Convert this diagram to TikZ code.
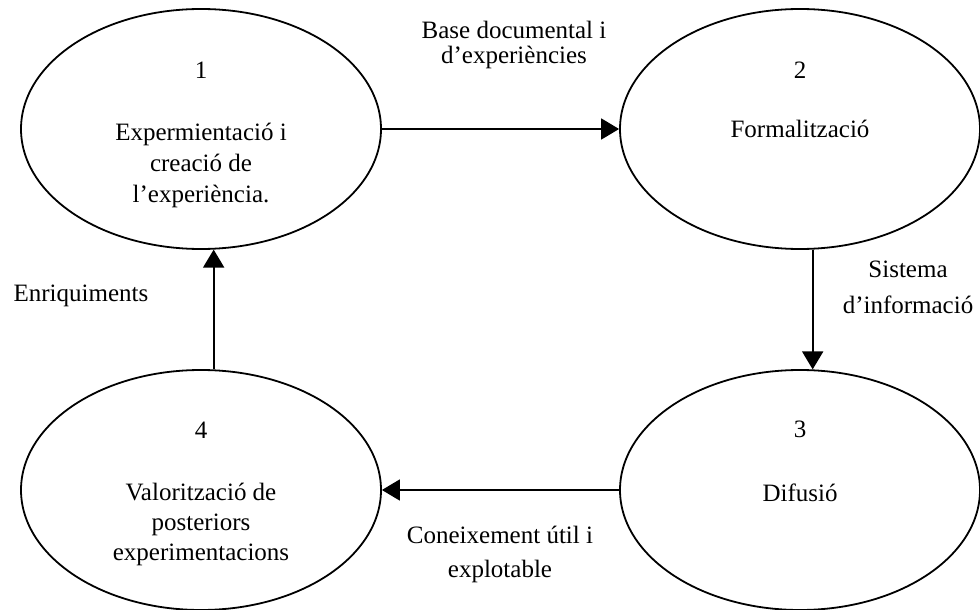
\documentclass[tikz,border=0pt]{standalone}
\usepackage{fontspec}
\setmainfont{Liberation Serif}
\usetikzlibrary{arrows.meta,positioning,shapes.geometric}
\definecolor{Ink}{HTML}{000000}

\begin{document}
\begin{tikzpicture}[x=.5pt,y=-.5pt,>={Triangle[length=9pt,width=10.5pt]},
    stage/.style={ellipse,draw=Ink,line width=.9pt,minimum width=180pt,
                  minimum height=120pt,inner sep=0pt},
    txt/.style={text=Ink,font=\fontsize{12.5}{15.5}\selectfont,align=center,inner sep=0pt},
    flow/.style={->,draw=Ink,line width=.9pt}]
  \useasboundingbox (0,0) rectangle (980,610);

  % the four stages
  \node[stage] (e1) at (201,129) {};
  \node[stage] (e2) at (800,129) {};
  \node[stage] (e3) at (800,490) {};
  \node[stage] (e4) at (201,490) {};

  % numbers and texts
  \node[txt] (n1) at ([yshift=29.5pt]e1.center) {1};
  \node[txt] (n2) at ([yshift=29.5pt]e2.center) {2};
  \node[txt] (n3) at ([yshift=30.5pt]e3.center) {3};
  \node[txt] (n4) at ([yshift=30pt]e4.center) {4};
  \node[txt] (t1) at ([yshift=-18pt]e1.center)
        {Expermientació i\\creació de\\l’experiència.};
  \node[txt] (t2) at (e2.center) {Formalització};
  \node[txt] (t3) at ([yshift=-1.5pt]e3.center) {Difusió};
  \node[txt,font=\fontsize{12.5}{15}\selectfont] (t4) at ([yshift=-17pt]e4.center)
        {Valorització de\\posteriors\\experimentacions};

  % cycle
  \draw[flow] (e1.east) -- (e2.west);
  \draw[flow] (e2.-84) -- (e3.84);
  \draw[flow] (e3.west) -- (e4.east);
  \draw[flow] (e4.84) -- (e1.-84);

  % arrow labels
  \node[txt,font=\fontsize{12.5}{12.5}\selectfont] (l12) at (514,45)
        {Base documental i\\d’experiències};
  \node[txt,font=\fontsize{12.5}{18}\selectfont] (l23) at (908,287)
        {Sistema\\d’informació};
  \node[txt,font=\fontsize{12.5}{17}\selectfont] (l34) at (500,554)
        {Coneixement útil i\\explotable};
  \node[txt] (l41) at (81,296) {Enriquiments};
\end{tikzpicture}
\end{document}
